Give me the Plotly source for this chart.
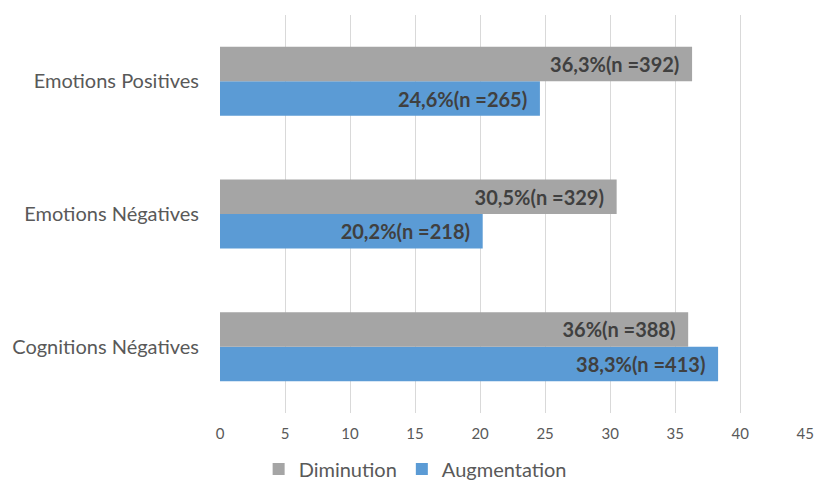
import plotly.graph_objects as go

categories = ["Cognitions Négatives", "Emotions Négatives", "Emotions Positives"]
diminution = [36.0, 30.5, 36.3]
diminution_n = [388, 329, 392]
augmentation = [38.3, 20.2, 24.6]
augmentation_n = [413, 218, 265]
x_ticks = [0, 5, 10, 15, 20, 25, 30, 35, 40, 45]


def fmt(v):
    s = ("%g" % v).replace(".", ",")
    return s


FONT = "Lato, sans-serif"

aug_text = [f"{fmt(v)}%(n ={n})\u00a0\u00a0" for v, n in zip(augmentation, augmentation_n)]
dim_text = [f"{fmt(v)}%(n ={n})\u00a0\u00a0" for v, n in zip(diminution, diminution_n)]

fig = go.Figure()
fig.add_trace(go.Bar(
    name="Augmentation", y=categories, x=augmentation, orientation="h",
    marker=dict(color="#5B9BD5", line=dict(width=0)),
    text=aug_text, textposition="inside", insidetextanchor="end", textangle=0,
    textfont=dict(family=FONT, size=20, color="#404040", weight="bold"),
    hoverinfo="skip",
))
fig.add_trace(go.Bar(
    name="Diminution", y=categories, x=diminution, orientation="h",
    marker=dict(color="#A5A5A5", line=dict(width=0)),
    text=dim_text, textposition="inside", insidetextanchor="end", textangle=0,
    textfont=dict(family=FONT, size=20, color="#404040", weight="bold"),
    hoverinfo="skip",
))

fig.update_layout(
    width=814, height=483,
    margin=dict(l=220, r=8, t=15, b=70, autoexpand=False),
    barmode="group", bargap=0.48, bargroupgap=0,
    plot_bgcolor="white", paper_bgcolor="white",
    font=dict(family=FONT, color="#595959"),
    showlegend=True,
    legend=dict(orientation="h", xref="container", x=0.51, xanchor="center",
                yref="paper", y=-0.141, yanchor="middle",
                traceorder="reversed", font=dict(size=20, color="#595959")),
    uniformtext=dict(minsize=20, mode="show"),
)
fig.update_xaxes(range=[0, 45.06], tickvals=x_ticks, showgrid=True, gridcolor="#D9D9D9",
                 gridwidth=1, zeroline=False, showline=False, ticks="",
                 automargin=False, ticklabelstandoff=10, ticklabeloverflow="allow",
                 tickfont=dict(size=15, color="#595959"), fixedrange=True)
fig.update_yaxes(showgrid=False, zeroline=False, showline=False, ticks="",
                 ticklabelstandoff=20, automargin=False,
                 tickfont=dict(size=20, color="#595959"), fixedrange=True)

fig.write_html(
    "out.html",
    config={"displayModeBar": False, "staticPlot": True},
    post_script="document.body.style.margin='0';document.body.style.overflow='hidden';",
)
